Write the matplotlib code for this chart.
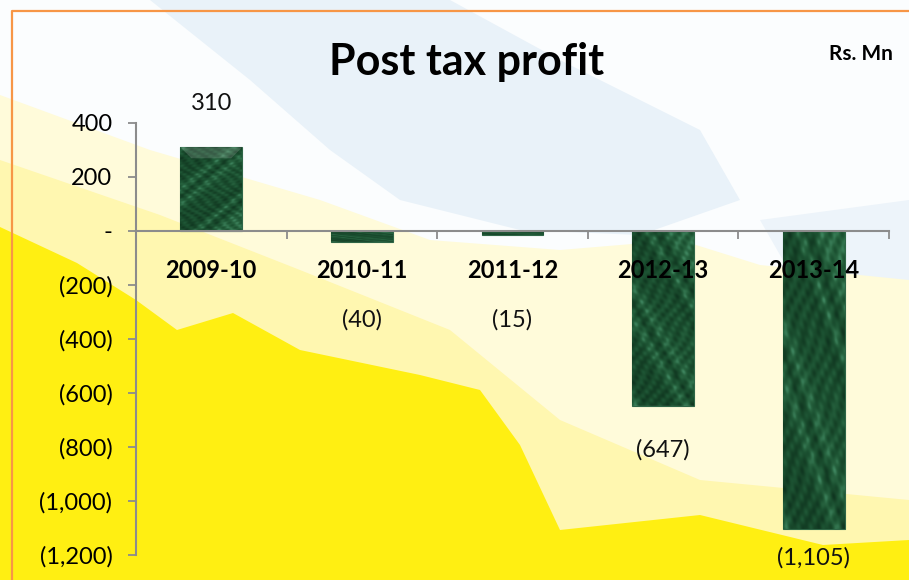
import numpy as np
import matplotlib
matplotlib.use("Agg")
import matplotlib.pyplot as plt
from matplotlib.patches import Polygon

plt.rcParams['font.family'] = ['Lato', 'DejaVu Sans']

# data
years = ['2009-10', '2010-11', '2011-12', '2012-13', '2013-14']
profit = [310, -40, -15, -647, -1105]
y_ticks = [400, 200, 0, -200, -400, -600, -800, -1000, -1200]

def fmt(v):
    if v == 0:
        return '-'
    if v < 0:
        return '({:,})'.format(-v)
    return '{:,}'.format(v)

W, H = 909, 580
fig = plt.figure(figsize=(W / 100, H / 100), dpi=100)

# background decoration (pixel coords, y down)
bg = fig.add_axes([0, 0, 1, 1], zorder=-10)
bg.set_xlim(0, W)
bg.set_ylim(H, 0)
bg.axis('off')
bg.add_patch(Polygon([(0, 0), (W, 0), (W, H), (0, H)], color='#fbfdfe'))
shapes = [
    ('#e9f2f9', [(150, 0), (450, 0), (560, 60), (700, 130), (740, 200), (640, 235),
                 (520, 230), (400, 200), (330, 150), (250, 80)]),
    ('#edf4fa', [(760, 220), (909, 200), (909, 300), (800, 290)]),
    ('#fffbda', [(0, 95), (150, 150), (320, 200), (430, 240), (560, 250), (680, 240),
                 (760, 265), (909, 280), (909, 580), (0, 580)]),
    ('#fff7b0', [(0, 160), (160, 215), (300, 270), (450, 330), (560, 420), (700, 480),
                 (909, 500), (909, 580), (0, 580)]),
    ('#ffef12', [(0, 227), (77, 263), (136, 300), (177, 330), (233, 313), (300, 350),
                 (420, 375), (480, 390), (520, 445), (560, 530), (700, 515), (823, 545),
                 (909, 540), (909, 580), (0, 580)]),
]
for c, pts in shapes:
    bg.add_patch(Polygon(pts, color=c, lw=0))
# orange frame
bg.plot([12, 12, W], [H, 11, 11], color='#f79646', lw=1.6)

ax = fig.add_axes([136 / W, 1 - 555 / H, (889 - 136) / W, (555 - 123) / H])
ax.patch.set_alpha(0)
ax.set_xlim(-0.5, len(years) - 0.5)
ax.set_ylim(-1200, 400)
x = np.arange(len(years))
bars = ax.bar(x, profit, width=0.41, color='#1b4d2f', edgecolor='#2f6647', lw=0.8, zorder=1)

# marble-ish shading inside each bar
gx, gy = np.meshgrid(np.linspace(0, 8, 80), np.linspace(0, 50, 500))
tex = (np.sin(gx * 1.3 + gy * 0.37 + 2.0 * np.sin(gy * 0.21 + gx * 0.8))
       + 0.7 * np.sin(gx * 3.7 - gy * 1.13 + np.cos(gy * 0.53))
       + 0.5 * np.cos(gx * 5.9 + gy * 2.71) * np.sin(gy * 0.77 - gx * 2.3))
cm = matplotlib.colors.LinearSegmentedColormap.from_list(
    'g', ['#0f3520', '#164428', '#1c5232', '#27633f', '#3f8660'])
px_x = 1 / 150.6   # data units per pixel
px_y = 200 / 54.0
bev = 11
for b in bars:
    x0, w = b.get_x(), b.get_width()
    y0, h = b.get_y(), b.get_height()
    im = ax.imshow(tex, extent=(x0, x0 + w, y0, y0 + h), cmap=cm, aspect='auto', zorder=1.1,
                   interpolation='bilinear')
    im.set_clip_path(b)
    top = y0 + h
    bevel = Polygon([(x0, top), (x0 + w, top), (x0 + w - bev * px_x, top - bev * px_y),
                     (x0 + bev * px_x, top - bev * px_y)], color='white', alpha=0.16,
                    lw=0, zorder=1.2)
    ax.add_patch(bevel)
    bevel.set_clip_path(b)

# value labels
label_off = [44, -78, -85, -44, -28]
for xi, v, off in zip(x, profit, label_off):
    ax.annotate(fmt(v), (xi, v), xytext=(0, off * 0.72), textcoords='offset points',
                ha='center', va='center', fontsize=17, color='#111111')

for s in ['top', 'right']:
    ax.spines[s].set_visible(False)
ax.spines['bottom'].set_position(('data', 0))
for s in ['left', 'bottom']:
    ax.spines[s].set_color('#8c8c8c')
    ax.spines[s].set_linewidth(1.5)
    ax.spines[s].set_zorder(3)

ax.set_yticks(y_ticks)
ax.set_yticklabels([fmt(v) for v in y_ticks], fontsize=17)
ax.tick_params(axis='y', length=6, width=1.3, color='#8c8c8c', pad=11)

ax.set_xticks(x + 0.5)
ax.set_xticklabels([])
ax.tick_params(axis='x', which='major', length=6, width=1.3, color='#8c8c8c')
ax.set_xticks(x, minor=True)
ax.set_xticklabels(years, minor=True, fontsize=17, fontweight='bold')
ax.tick_params(axis='x', which='minor', length=0, pad=20)

fig.text(467 / W, 1 - 62 / H, 'Post tax profit', ha='center', va='center',
         fontsize=31, fontweight='bold')
fig.text(829 / W, 1 - 54 / H, 'Rs. Mn', ha='left', va='center',
         fontsize=15, fontweight='bold')

fig.savefig('out.png', dpi=100)
